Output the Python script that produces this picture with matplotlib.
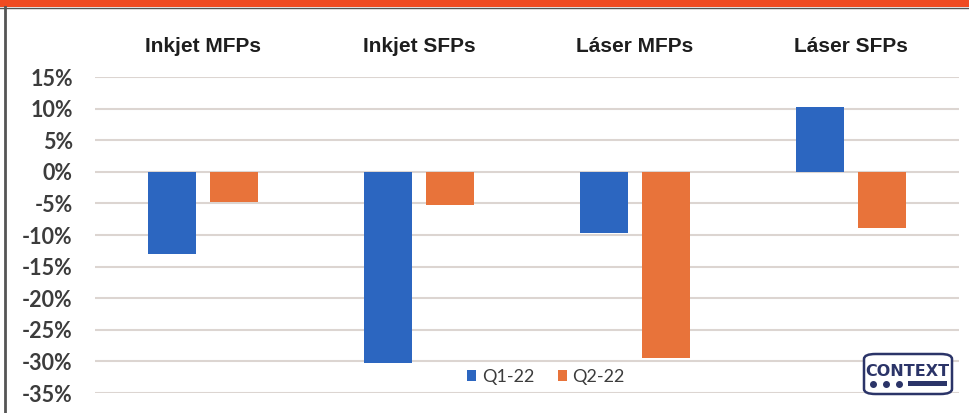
import numpy as np
import matplotlib
matplotlib.use("Agg")
from matplotlib import pyplot as plt
from matplotlib.patches import Rectangle, FancyBboxPatch
from matplotlib.lines import Line2D
import matplotlib.transforms as mtransforms

# data
categories = ["Inkjet MFPs", "Inkjet SFPs", "Láser MFPs", "Láser SFPs"]
q1_22 = [-13.0, -30.2, -9.7, 10.2]
q2_22 = [-4.7, -5.2, -29.4, -8.9]
series_names = ["Q1-22", "Q2-22"]
yticks = [15, 10, 5, 0, -5, -10, -15, -20, -25, -30, -35]

blue = "#2c66c0"
orange = "#e8733a"
grid_col = "#dcd5d1"
text_col = "#3c3c3c"

W, H = 969, 413
fig = plt.figure(figsize=(W / 100, H / 100), dpi=100)
fig.patch.set_facecolor("white")

# helper: pixel -> figure fraction
def fx(x):
    return x / W
def fy(y):
    return 1 - y / H

ax = fig.add_axes([fx(95), fy(393), fx(959) - fx(95), fy(77) - fy(393)])

x = np.arange(len(categories))
bw = 0.222
off = 0.1435
ax.bar(x - off, q1_22, bw, color=blue, label=series_names[0], zorder=3)
ax.bar(x + off, q2_22, bw, color=orange, label=series_names[1], zorder=3)

ax.set_xlim(-0.5, len(categories) - 0.5)
ax.set_ylim(-35, 15)
ax.set_yticks(yticks)
ax.set_yticklabels(["{0}%".format(t) for t in yticks],
                   fontfamily="Lato", fontweight="bold", fontsize=15.5, color=text_col)
ax.set_xticks([])
ax.tick_params(axis="y", length=0, pad=16)
ax.yaxis.grid(True, color=grid_col, linewidth=1.5, zorder=0)
for s in ax.spines.values():
    s.set_visible(False)

# category titles on top
trans = mtransforms.blended_transform_factory(ax.transData, fig.transFigure)
for i, c in enumerate(categories):
    ax.text(x[i], fy(47), c, transform=trans, ha="center", va="center",
            fontsize=15, fontweight="bold", fontfamily="Liberation Sans", color="#1e1e1e")

leg = ax.legend(loc="center", bbox_to_anchor=(0.522, 0.051), ncol=2, frameon=False,
                handlelength=0.5, handleheight=0.5, handletextpad=0.3, columnspacing=1.3,
                prop={"family": "Lato", "size": 13})
for t in leg.get_texts():
    t.set_color(text_col)

# frame decoration: orange band on top, dark line at left
fig.add_artist(Rectangle((0, fy(7)), 1, 1 - fy(7), transform=fig.transFigure,
                         facecolor="#f04b22", edgecolor="none"))
fig.add_artist(Line2D([0, 1], [fy(7.5), fy(7.5)], transform=fig.transFigure,
                      color="#555555", linewidth=1))
fig.add_artist(Line2D([fx(5), fx(5)], [0, fy(7)], transform=fig.transFigure,
                      color="#555555", linewidth=2))

# CONTEXT logo
navy = "#2b3468"
fig.add_artist(FancyBboxPatch((fx(864), fy(394)), fx(952) - fx(864), fy(354) - fy(394),
                              boxstyle="round,pad=0,rounding_size=0.012",
                              transform=fig.transFigure, facecolor="white",
                              edgecolor=navy, linewidth=1.8, zorder=5))
fig.text(fx(907), fy(371), "CONTEXT", ha="center", va="center", fontsize=11.5,
         fontweight="bold", fontfamily="DejaVu Sans", color=navy, zorder=6)
for dx in [873, 886, 899]:
    fig.add_artist(Line2D([fx(dx)], [fy(383.5)], marker="o", markersize=4,
                          color=navy, transform=fig.transFigure, zorder=6))
fig.add_artist(Rectangle((fx(908), fy(386)), fx(947) - fx(908), fy(381) - fy(386),
                         transform=fig.transFigure, facecolor=navy, edgecolor="none", zorder=6))

fig.savefig("out.png", dpi=100)
